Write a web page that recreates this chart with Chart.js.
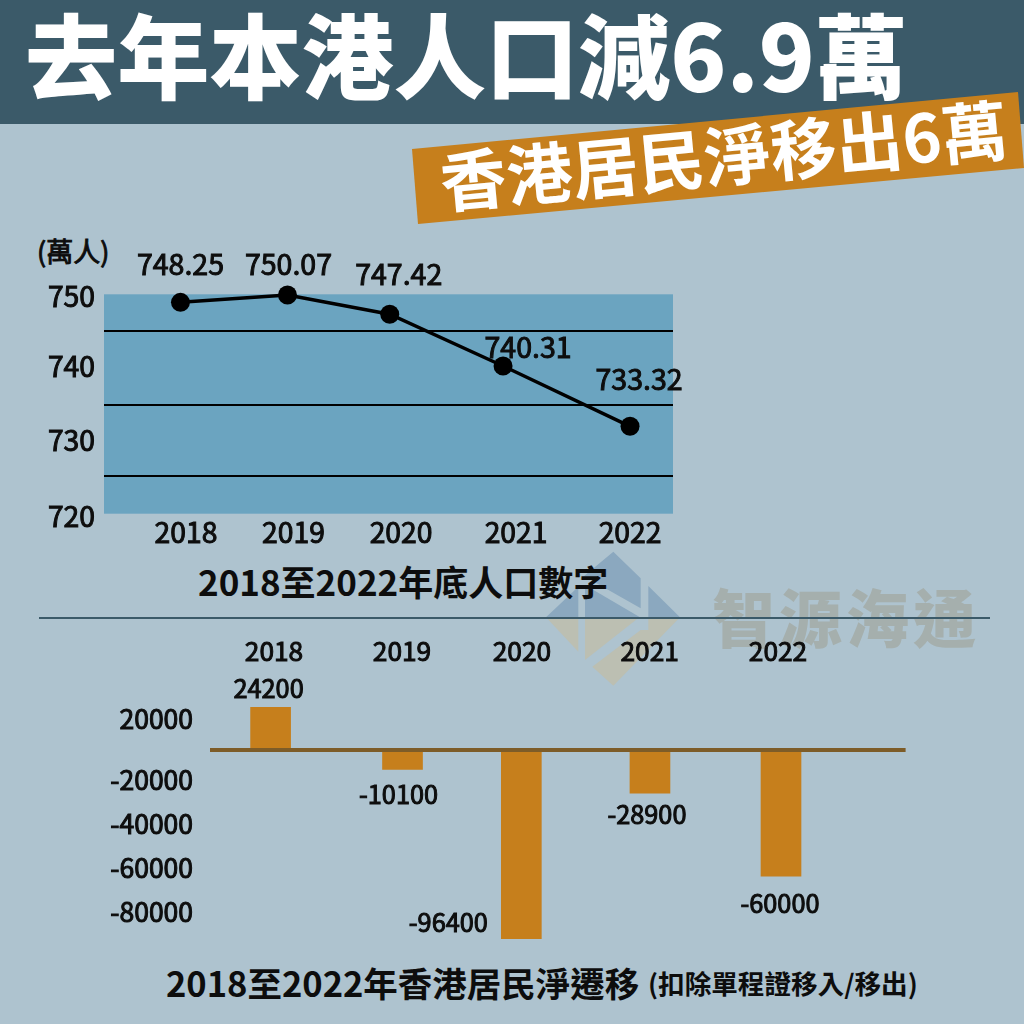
<!DOCTYPE html>
<html lang="zh-Hant">
<head>
<meta charset="utf-8">
<script src="https://cdn.jsdelivr.net/npm/chart.js@4/dist/chart.umd.js"></script>
<style>
html,body{margin:0;padding:0;width:1024px;height:1024px;overflow:hidden;background:#aec3cf;font-family:"Noto Sans CJK TC","Noto Sans",sans-serif;color:#0d0d0d}
.abs{position:absolute;white-space:nowrap;line-height:1}
#header{left:0;top:0;width:1024px;height:124px;background:#3b5a69}
#title{left:25px;top:6px;font-size:92.2px;font-weight:900;color:#fff}
#sub{left:440px;top:146px;font-size:66.3px;font-weight:700;color:#fff;transform:rotate(-5.4deg);transform-origin:0 50%}
canvas{position:absolute;left:0;top:0}
</style>
</head>
<body>
<div class="abs" id="header"></div>
<div class="abs" id="title">去年本港人口減6.9萬</div>
<svg class="abs" style="left:0;top:0" width="1024" height="232"><polygon points="412,149 1018,92 1024,168 418,224" fill="#c67f1c"/></svg>
<div class="abs" id="sub">香港居民淨移出6萬</div>

<svg class="abs" style="left:520px;top:540px" width="504" height="160" viewBox="0 0 1512 480">
  <g fill="#8ba8bf">
    <polygon points="78,232 175,140 175,232"/>
    <polygon points="195,135 360,232 195,232"/>
    <polygon points="178,120 280,35 362,115 362,205 195,110"/>
    <polygon points="385,138 480,232 385,232"/>
  </g>
  <g fill="#bcbfb2">
    <polygon points="78,232 175,232 175,335"/>
    <polygon points="195,232 358,232 195,360"/>
    <polygon points="385,232 480,232 280,437 217,380 362,270 385,270"/>
  </g>
</svg>
<div class="abs" style="left:712px;top:583px;font-size:63px;font-weight:900;color:#a5afad;letter-spacing:4px">智源海通</div>
<div class="abs" style="left:39px;top:617px;width:951px;height:2px;background:#3b5a69"></div>

<div class="abs" style="left:37px;top:237px;font-size:27px;font-weight:400;-webkit-text-stroke:0.9px #0d0d0d">(萬人)</div>
<div class="abs" style="left:198px;top:563px;font-size:35px;font-weight:700">2018至2022年底人口數字</div>
<div class="abs" style="left:166px;top:965px;font-size:34.5px;font-weight:700">2018至2022年香港居民淨遷移</div>
<div class="abs" style="left:648px;top:970px;font-size:26.6px;font-weight:700">(扣除單程證移入/移出)</div>

<canvas id="popChart" width="1024" height="1024"></canvas>
<canvas id="flowChart" width="1024" height="1024"></canvas>

<script>
// ---- Data ----
const popYears = ['2018','2019','2020','2021','2022'];
const popTickPlaces = [2018, 2018.968, 2019.937, 2020.973, 2022];
// Markers are hand-placed in the source, so they are read as drawn; the printed figures follow.
const popPointPlaces = [2017.95, 2018.914, 2019.835, 2020.856, 2022];
const popPointValues = [748.9, 749.9, 747.27, 740.2, 731.95];
const popPrinted = ['748.25','750.07','747.42','740.31','733.32'];
const popAxisLabels = ['750','','740','','730','','720'];
const popAxisPlaces = [749.67, 745, 740.18, 734.87, 730.1, 725.2, 719.7];

const flowYears = ['2018','2019','2020','2021','2022'];
const flowTickPlaces = [2018, 2019.016, 2019.968, 2020.982, 2022];
const flowBarPlaces = [2017.973, 2019.02, 2019.963, 2020.984, 2022.024];
const flowBarValues = [21800, -9860, -96400, -22100, -64400];
const flowPrinted = ['24200','-10100','-96400','-28900','-60000'];
const flowAxisLabels = ['20000','','-20000','-40000','-60000','-80000'];
const flowAxisPlaces = [15836, 0, -15326, -37803, -60128, -82912];

// ---- Styling ----
const FONT = '"Noto Sans CJK TC","Noto Sans",sans-serif';
const INK = '#0d0d0d';
const HEFT = 1;
const tickFont = (size) => ({family: FONT, size, weight: '400'});
const popLabelOffsets = [[0,-38],[1,-31],[9,-40],[25,-19],[9,-47]];
const flowLabelOffsets = [[-2,-19],[-4,25],[-73,-16],[-3,21],[-1,27]];

const printedLabels = {
  id: 'printedLabels',
  afterDatasetsDraw(chart, args, opts) {
    const {ctx} = chart;
    const els = chart.getDatasetMeta(0).data;
    ctx.save();
    ctx.font = `400 ${opts.size}px ${FONT}`;
    ctx.fillStyle = INK;
    ctx.strokeStyle = INK;
    ctx.lineWidth = HEFT;
    ctx.textAlign = 'center';
    ctx.textBaseline = 'middle';
    els.forEach((el, i) => {
      const x = el.x + opts.offsets[i][0], y = el.y + opts.offsets[i][1];
      ctx.strokeText(opts.texts[i], x, y);
      ctx.fillText(opts.texts[i], x, y);
    });
    ctx.restore();
  }
};
const plotBackground = {
  id: 'plotBackground',
  beforeDraw(chart, args, opts) {
    if (!opts.color) return;
    const {ctx, chartArea: a} = chart;
    ctx.save();
    ctx.fillStyle = opts.color;
    ctx.fillRect(a.left, a.top, a.right - a.left, a.bottom - a.top);
    ctx.restore();
  }
};

Chart.defaults.animation = false;
Chart.defaults.responsive = false;

new Chart(document.getElementById('popChart'), {
  type: 'line',
  data: {
    datasets: [{
      data: popPointPlaces.map((x, i) => ({x, y: popPointValues[i]})),
      borderColor: '#000', borderWidth: 3.5, tension: 0,
      pointRadius: 9.5, pointBackgroundColor: '#000', pointBorderColor: '#000', pointBorderWidth: 0,
      clip: false
    }]
  },
  plugins: [printedLabels, plotBackground],
  options: {
    layout: {padding: {left: 24, right: 351, top: 294.3, bottom: 470.3}},
    plugins: {
      legend: {display: false}, tooltip: {enabled: false},
      printedLabels: {texts: popPrinted, offsets: popLabelOffsets, size: 28.5},
      plotBackground: {color: '#6ba4c0'}
    },
    scales: {
      x: {
        type: 'linear', offset: false, min: 2017.261, max: 2022.387,
        afterBuildTicks(s) { s.ticks = popTickPlaces.map(value => ({value})); },
        afterFit(s) { s.height = 40; },
        grid: {display: false}, border: {display: false},
        ticks: {
          autoSkip: false, maxRotation: 0, padding: -6, color: INK, font: tickFont(28.3),
          textStrokeColor: INK, textStrokeWidth: HEFT,
          callback: (v, i) => popYears[i]
        }
      },
      y: {
        min: 720, max: 750,
        afterBuildTicks(s) { s.ticks = popAxisPlaces.map(value => ({value})); },
        afterFit(s) { s.width = 80; },
        border: {display: false},
        grid: {drawTicks: false, lineWidth: 2, color: c => (popAxisLabels[c.index] === '' ? '#000' : 'transparent')},
        ticks: {
          autoSkip: false, padding: 9, color: INK, font: tickFont(28.3),
          textStrokeColor: INK, textStrokeWidth: HEFT,
          callback: (v, i) => popAxisLabels[i]
        }
      }
    }
  }
});

new Chart(document.getElementById('flowChart'), {
  type: 'bar',
  data: {
    datasets: [{
      data: flowBarPlaces.map((x, i) => ({x, y: flowBarValues[i]})),
      backgroundColor: '#c67f1c', barThickness: 40
    }]
  },
  plugins: [printedLabels],
  options: {
    layout: {padding: {left: 80, right: 118.4, top: 630, bottom: 74}},
    plugins: {
      legend: {display: false}, tooltip: {enabled: false},
      printedLabels: {texts: flowPrinted, offsets: flowLabelOffsets, size: 25.3}
    },
    scales: {
      x: {
        type: 'linear', offset: false, position: 'top', min: 2017.492, max: 2023.013,
        afterBuildTicks(s) { s.ticks = flowTickPlaces.map(value => ({value})); },
        afterFit(s) { s.height = 40; },
        grid: {display: false}, border: {display: false},
        ticks: {
          autoSkip: false, maxRotation: 0, padding: -5, color: INK, font: tickFont(26.3),
          textStrokeColor: INK, textStrokeWidth: HEFT,
          callback: (v, i) => flowYears[i]
        }
      },
      y: {
        min: -102171, max: 40868,
        afterBuildTicks(s) { s.ticks = flowAxisPlaces.map(value => ({value})); },
        afterFit(s) { s.width = 130; },
        border: {display: false},
        grid: {drawTicks: false, z: 1, lineWidth: 4, color: c => (flowAxisLabels[c.index] === '' ? '#7d5c28' : 'transparent')},
        ticks: {
          autoSkip: false, padding: 17, color: INK, font: tickFont(26.5),
          textStrokeColor: INK, textStrokeWidth: HEFT,
          callback: (v, i) => flowAxisLabels[i]
        }
      }
    }
  }
});
</script>
</body>
</html>
